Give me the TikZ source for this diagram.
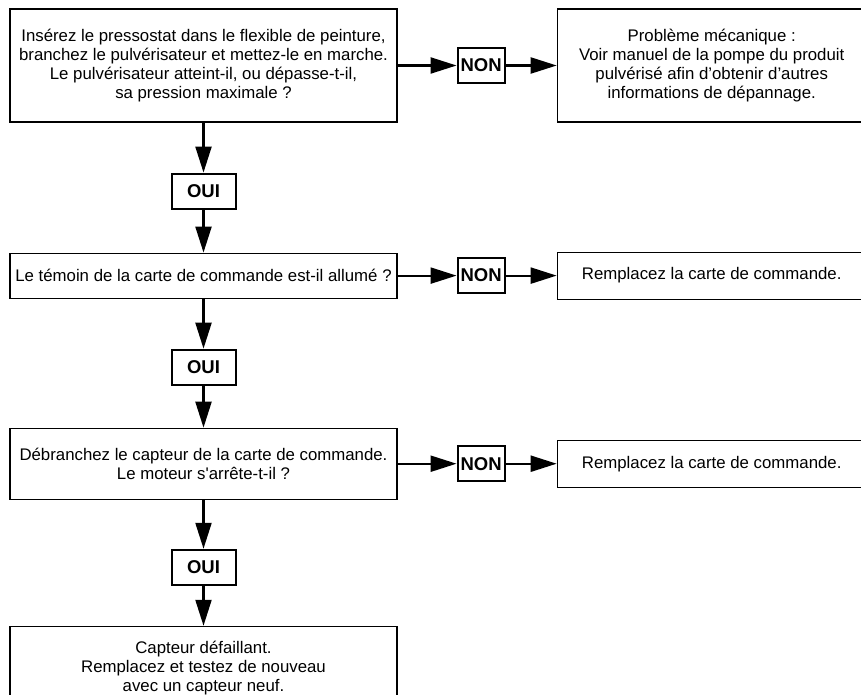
\documentclass[tikz,border=0pt]{standalone}
\usepackage{fontspec}
\setmainfont{Liberation Sans}[Ligatures=TeXOff]
\usetikzlibrary{positioning,arrows.meta}

\begin{document}
\begin{tikzpicture}[x=1pt, y=-1pt,
    every node/.style={align=center, font=\fontsize{16.8}{19}\selectfont},
    question/.style={draw, line width=1.1pt, minimum width=387pt},
    answer/.style={draw, line width=1.1pt, minimum width=309pt},
    tag/.style={draw, line width=2pt, inner xsep=3pt, minimum height=35pt, font=\fontsize{18.5}{20}\selectfont\bfseries},
    flow/.style={line width=2.2pt, -{Triangle[length=26pt,width=16pt]}}]
    \path[use as bounding box, clip] (0,0) rectangle (861,695);
    \fill[white] (0,0) rectangle (861,695);
    % first question
    \node[question, minimum height=113pt] (q1) at (203.5,65.5) {Insérez le pressostat dans le flexible de peinture,\\branchez le pulvérisateur et mettez-le en marche.\\Le pulvérisateur atteint-il, ou dépasse-t-il,\\sa pression maximale ?};
    \node[tag, right=59pt of q1] (non1) {NON};
    \node[answer, minimum height=113pt, right=51pt of non1] (r1) {Problème mécanique :\\Voir manuel de la pompe du produit\\pulvérisé afin d’obtenir d’autres\\informations de dépannage.};
    \node[tag, minimum width=64pt, below=50pt of q1] (oui1) {OUI};
    % second question
    \node[question, minimum height=45pt, below=43pt of oui1] (q2) {Le témoin de la carte de commande est-il allumé ?};
    \node[tag, right=59pt of q2] (non2) {NON};
    \node[answer, minimum height=47pt, right=51pt of non2] (r2) {Remplacez la carte de commande.};
    \node[tag, minimum width=64pt, below=50pt of q2] (oui2) {OUI};
    % third question
    \node[question, minimum height=71pt, below=42pt of oui2] (q3) {Débranchez le capteur de la carte de commande.\\Le moteur s'arrête-t-il ?};
    \node[tag, right=59pt of q3] (non3) {NON};
    \node[answer, minimum height=47pt, right=51pt of non3] (r3) {Remplacez la carte de commande.};
    \node[tag, minimum width=64pt, below=49pt of q3] (oui3) {OUI};
    \node[question, minimum height=84pt, below=40pt of oui3] (q4) {Capteur défaillant.\\Remplacez et testez de nouveau\\avec un capteur neuf.};
    % connectors
    \draw[flow] (q1) -- (non1);
    \draw[flow] (non1) -- (r1);
    \draw[flow] (q1) -- (oui1);
    \draw[flow] (oui1) -- (q2);
    \draw[flow] (q2) -- (non2);
    \draw[flow] (non2) -- (r2);
    \draw[flow] (q2) -- (oui2);
    \draw[flow] (oui2) -- (q3);
    \draw[flow] (q3) -- (non3);
    \draw[flow] (non3) -- (r3);
    \draw[flow] (q3) -- (oui3);
    \draw[flow] (oui3) -- (q4);
\end{tikzpicture}
\end{document}
